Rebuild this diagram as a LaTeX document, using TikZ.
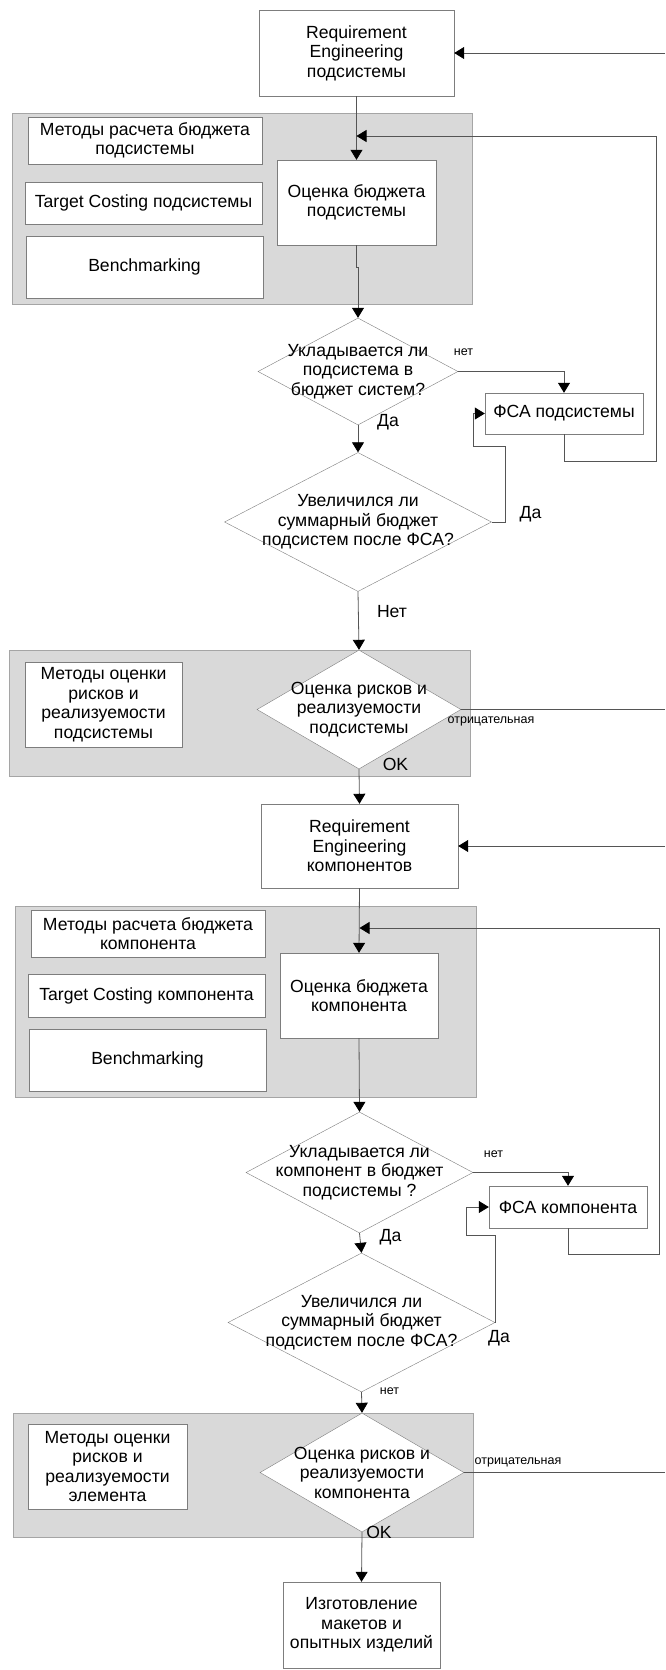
\documentclass[tikz,border=0pt]{standalone}
\usepackage{fontspec}
\setmainfont{Liberation Sans}
\usepackage{tikz}
\usetikzlibrary{shapes.geometric,arrows.meta}

\definecolor{panelgray}{RGB}{217,217,217}
\definecolor{paneledge}{RGB}{165,165,165}
\definecolor{boxedge}{RGB}{125,125,125}
\definecolor{linegray}{RGB}{85,85,85}

\begin{document}
\begin{tikzpicture}[x=1pt, y=-1pt,
  box/.style={draw=boxedge, fill=white, inner sep=0pt, align=center, font=\fontsize{17.6}{19.5}\selectfont},
  dia/.style={diamond, draw=boxedge, fill=white, inner sep=0pt},
  diatext/.style={align=center, inner sep=0pt, font=\fontsize{17.6}{19.5}\selectfont},
  lbl/.style={inner sep=0pt, font=\fontsize{17.6}{19.5}\selectfont},
  smalllbl/.style={inner sep=0pt, font=\fontsize{12.5}{14}\selectfont},
  conn/.style={draw=linegray, line width=0.8pt},
  arr/.style={conn, -{Triangle[length=10pt, width=12pt, color=black]}},
  panel/.style={draw=paneledge, fill=panelgray, line width=1pt}]

\useasboundingbox (0,0) rectangle (665,1670);

\draw[panel] (12,113) rectangle (472,304);
\draw[panel] (9,650) rectangle (470,776);
\draw[panel] (15,906) rectangle (476,1097);
\draw[panel] (13,1413) rectangle (473,1537);

\node[box, minimum width=195, minimum height=86] (req1) at (356.5,53) {Requirement\\Engineering\\подсистемы};
\node[box, minimum width=234, minimum height=47] (meth1) at (145,140.5) {Методы расчета бюджета\\подсистемы};
\node[box, minimum width=237, minimum height=42] (tc1) at (143.5,203) {Target Costing подсистемы};
\node[box, minimum width=237, minimum height=62] (bm1) at (144.5,267) {Benchmarking};
\node[box, minimum width=159, minimum height=85] (est1) at (356.5,202.5) {Оценка бюджета\\подсистемы};

\node[dia, minimum width=200, minimum height=107] (fit1) at (358,371.5) {};
\node[diatext] (fit1t) at (fit1) {Укладывается ли\\подсистема в\\бюджет систем?};
\node[box, minimum width=158, minimum height=41] (fsa1) at (564,413.5) {ФСА подсистемы};
\node[dia, minimum width=267, minimum height=139] (grow1) at (358,522) {};
\node[diatext] (grow1t) at (grow1) {Увеличился ли\\суммарный бюджет\\подсистем после ФСА?};

\node[box, minimum width=157, minimum height=85] (rmeth1) at (103.5,704.5) {Методы оценки\\рисков и\\реализуемости\\подсистемы};
\node[dia, minimum width=204, minimum height=119] (risk1) at (359,709.5) {};
\node[diatext] (risk1t) at (risk1) {Оценка рисков и\\реализуемости\\подсистемы};

\node[box, minimum width=197, minimum height=84] (req2) at (359.5,846) {Requirement\\Engineering\\компонентов};
\node[box, minimum width=234, minimum height=47] (meth2) at (148,933.5) {Методы расчета бюджета\\компонента};
\node[box, minimum width=237, minimum height=43] (tc2) at (146.5,995.5) {Target Costing компонента};
\node[box, minimum width=237, minimum height=62] (bm2) at (147.5,1060) {Benchmarking};
\node[box, minimum width=158, minimum height=85] (est2) at (359,995.5) {Оценка бюджета\\компонента};

\node[dia, minimum width=227, minimum height=121] (fit2) at (359.5,1172.5) {};
\node[diatext] (fit2t) at (fit2) {Укладывается ли\\компонент в бюджет\\подсистемы ?};
\node[box, minimum width=158, minimum height=42] (fsa2) at (568,1207) {ФСА компонента};
\node[dia, minimum width=267, minimum height=139] (grow2) at (361.5,1322.5) {};
\node[diatext] (grow2t) at (grow2) {Увеличился ли\\суммарный бюджет\\подсистем после ФСА?};

\node[box, minimum width=159, minimum height=85] (rmeth2) at (107.5,1466.5) {Методы оценки\\рисков и\\реализуемости\\элемента};
\node[dia, minimum width=204, minimum height=119] (risk2) at (362,1472.5) {};
\node[diatext] (risk2t) at (risk2) {Оценка рисков и\\реализуемости\\компонента};

\node[box, minimum width=157, minimum height=86] (make) at (361.5,1625) {Изготовление\\макетов и\\опытных изделий};

\coordinate (edge1) at (665,53);
\coordinate (edge2) at (665,709.5);
\coordinate (edge3) at (665,846);
\coordinate (edge4) at (665,1472.5);

\node[smalllbl] (no1) at (463.5,352) {нет};
\node[lbl] (yes1) at (388,422) {Да};
\node[lbl] (yes2) at (530.5,514) {Да};
\node[lbl] (no2) at (392,612) {Нет};
\node[smalllbl] (neg1) at (491,721) {отрицательная};
\node[lbl] (ok1) at (395.5,764) {OK};
\node[smalllbl] (no3) at (493.5,1154) {нет};
\node[lbl] (yes3) at (390.5,1237) {Да};
\node[lbl] (yes4) at (499,1338) {Да};
\node[smalllbl] (no4) at (389.5,1391) {нет};
\node[smalllbl] (neg2) at (518,1462) {отрицательная};
\node[lbl] (ok2) at (379,1532) {OK};

\draw[arr] (edge1) -- (req1.east);
\draw[arr] (req1.south) -- (est1.north);
\draw[arr] (fsa1.south) |- (656,461) |- (356.5,136);
\draw[arr] (est1.south) -- ++(0,22) -| (fit1.north);
\draw[arr] (fit1.east) -| (fsa1.north);
\draw[arr] (fit1.south) -- (grow1.north);
\draw[arr] (grow1.east) -| (505,446) -| (473,413.5) -- (fsa1.west);
\draw[arr] (grow1.south) -- (risk1.north);
\draw[conn] (risk1.east) -- (edge2);
\draw[arr] (risk1.south) -- (req2.north);

\draw[arr] (edge3) -- (req2.east);
\draw[arr] (req2.south) -- (est2.north);
\draw[arr] (fsa2.south) |- (659,1254) |- (359.5,928);
\draw[arr] (est2.south) -- (fit2.north);
\draw[arr] (fit2.east) -| (fsa2.north);
\draw[arr] (fit2.south) -- (grow2.north);
\draw[arr] (grow2.east) |- (466,1235) |- (fsa2.west);
\draw[arr] (grow2.south) -- (risk2.north);
\draw[conn] (risk2.east) -- (edge4);
\draw[arr] (risk2.south) -- (make.north);

\end{tikzpicture}
\end{document}
